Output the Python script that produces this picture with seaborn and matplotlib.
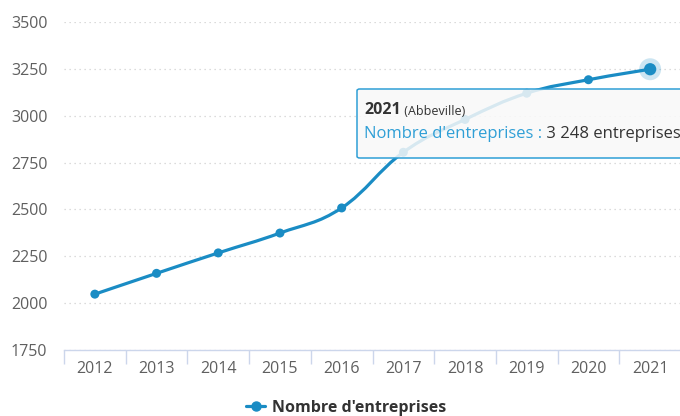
import numpy as np
import pandas as pd
import seaborn as sns
import matplotlib
matplotlib.use("Agg")
import matplotlib.pyplot as plt
from matplotlib.path import Path
from matplotlib.patches import PathPatch, FancyBboxPatch
from matplotlib.lines import Line2D

years = ["2012", "2013", "2014", "2015", "2016", "2017", "2018", "2019", "2020", "2021"]
entreprises = [2048, 2159, 2268, 2374, 2508, 2805, 2980, 3120, 3192, 3248]
yticks = [1750, 2000, 2250, 2500, 2750, 3000, 3250, 3500]
series_name = "Nombre d'entreprises"
tooltip_year = "2021"
tooltip_place = "(Abbeville)"
tooltip_value = " 3 248 entreprises"

BLUE = "#1a8cc4"
TXT = "#5f5f5f"

sns.set_theme(style="white")
plt.rcParams["font.family"] = ["Open Sans", "DejaVu Sans"]

df = pd.DataFrame({"year": years, "n": entreprises})
df["x"] = np.arange(len(df))

fig = plt.figure(figsize=(6.8, 4.16), dpi=100)
W, H = 680, 416
ax = fig.add_axes([64 / W, (H - 350) / H, (681 - 64) / W, (350 - 22) / H])

# spline path (Highcharts-like)
xs = df["x"].to_numpy(float)
ys = df["n"].to_numpy(float)
n = len(xs)
sm, den = 1.5, 2.5
lc = [(xs[i], ys[i]) for i in range(n)]
rc = [(xs[i], ys[i]) for i in range(n)]
for i in range(1, n - 1):
    px, py = xs[i], ys[i]
    lx, ly = xs[i - 1], ys[i - 1]
    nx, ny = xs[i + 1], ys[i + 1]
    lcx = (sm * px + lx) / den
    lcy = (sm * py + ly) / den
    rcx = (sm * px + nx) / den
    rcy = (sm * py + ny) / den
    if rcx != lcx:
        corr = ((rcy - lcy) * (rcx - px)) / (rcx - lcx) + py - rcy
        lcy += corr
        rcy += corr
    if lcy > ly and lcy > py:
        lcy = max(ly, py); rcy = 2 * py - lcy
    elif lcy < ly and lcy < py:
        lcy = min(ly, py); rcy = 2 * py - lcy
    if rcy > ny and rcy > py:
        rcy = max(ny, py); lcy = 2 * py - rcy
    elif rcy < ny and rcy < py:
        rcy = min(ny, py); lcy = 2 * py - rcy
    lc[i] = (lcx, lcy)
    rc[i] = (rcx, rcy)
verts = [(xs[0], ys[0])]
codes = [Path.MOVETO]
for i in range(1, n):
    verts += [rc[i - 1], lc[i], (xs[i], ys[i])]
    codes += [Path.CURVE4] * 3
ax.add_patch(PathPatch(Path(verts, codes), fill=False, edgecolor=BLUE, lw=2.3,
                       capstyle="round", joinstyle="round", zorder=3))

sns.scatterplot(data=df.iloc[:-1], x="x", y="n", s=42, color=BLUE, edgecolor="none",
                ax=ax, zorder=4, legend=False)
last = df.iloc[[-1]]
sns.scatterplot(data=last, x="x", y="n", s=250, color=BLUE, alpha=0.22, edgecolor="none",
                ax=ax, zorder=4, legend=False)
sns.scatterplot(data=last, x="x", y="n", s=78, color=BLUE, edgecolor="none",
                ax=ax, zorder=5, legend=False)

ax.set_xlim(-0.5, len(years) - 0.5)
ax.set_ylim(yticks[0], yticks[-1])
ax.set_yticks(yticks)
ax.set_yticklabels([str(v) for v in yticks])
ax.set_xticks(np.arange(len(years)))
ax.set_xticklabels(years)
ax.set_xticks(np.arange(len(years) + 1) - 0.5, minor=True)
ax.tick_params(axis="x", which="major", bottom=True, length=0, pad=8, labelsize=11.5,
               labelcolor=TXT)
ax.tick_params(axis="x", which="minor", bottom=True, length=10, width=1, color="#ccd6eb",
               direction="out")
ax.tick_params(axis="y", left=True, length=0, pad=12, labelsize=11.5, labelcolor=TXT)
ax.set_xlabel("")
ax.set_ylabel("")
for s in ["top", "right", "left"]:
    ax.spines[s].set_visible(False)
ax.spines["bottom"].set_color("#ccd6eb")
ax.spines["bottom"].set_linewidth(1)
ax.yaxis.grid(True, color="#d0d0d0", linestyle=(0, (1, 3)), linewidth=0.9)
ax.xaxis.grid(False)
ax.set_axisbelow(True)
ax.patch.set_alpha(0)

# tooltip (all drawn within the axes so z-ordering is consistent)
box = FancyBboxPatch((357 / W, (H - 158) / H), (700 - 357) / W, (158 - 89) / H,
                     boxstyle="round,pad=0,rounding_size=0.004", transform=fig.transFigure,
                     facecolor="#f9f9f9", alpha=0.85, edgecolor="none", zorder=10,
                     clip_on=False)
ax.add_patch(box)
box2 = FancyBboxPatch((357 / W, (H - 158) / H), (700 - 357) / W, (158 - 89) / H,
                      boxstyle="round,pad=0,rounding_size=0.004", transform=fig.transFigure,
                      facecolor="none", edgecolor="#2f9fd6", lw=1.1, zorder=11, clip_on=False)
ax.add_patch(box2)
t1 = ax.annotate(tooltip_year, xy=(364 / W, (H - 110) / H), xycoords="figure fraction",
                 fontsize=11.5, fontweight="bold", color="#333333", va="center", ha="left",
                 zorder=12, annotation_clip=False)
a1 = ax.annotate(" " + tooltip_place, xy=(1, 0), xycoords=t1, va="bottom", ha="left",
                 fontsize=9, color="#333333", zorder=12, annotation_clip=False)
t2 = ax.annotate(series_name + " :", xy=(364 / W, (H - 134.5) / H), xycoords="figure fraction",
                 fontsize=12, color="#2f9fd6", va="center", ha="left", zorder=12,
                 annotation_clip=False)
a2 = ax.annotate(tooltip_value, xy=(1, 0), xycoords=t2, va="bottom", ha="left",
                 fontsize=12, color="#333333", zorder=12, annotation_clip=False)

handle = Line2D([0], [0], color=BLUE, lw=2.3, marker="o", markersize=6.5)
fig.legend([handle], [series_name], loc="center", bbox_to_anchor=(346 / W, (H - 408) / H),
           frameon=False, handlelength=1.2, handletextpad=0.4,
           prop={"weight": "bold", "size": 11.5}, labelcolor="#333333")

fig.savefig("out.png", dpi=100)
